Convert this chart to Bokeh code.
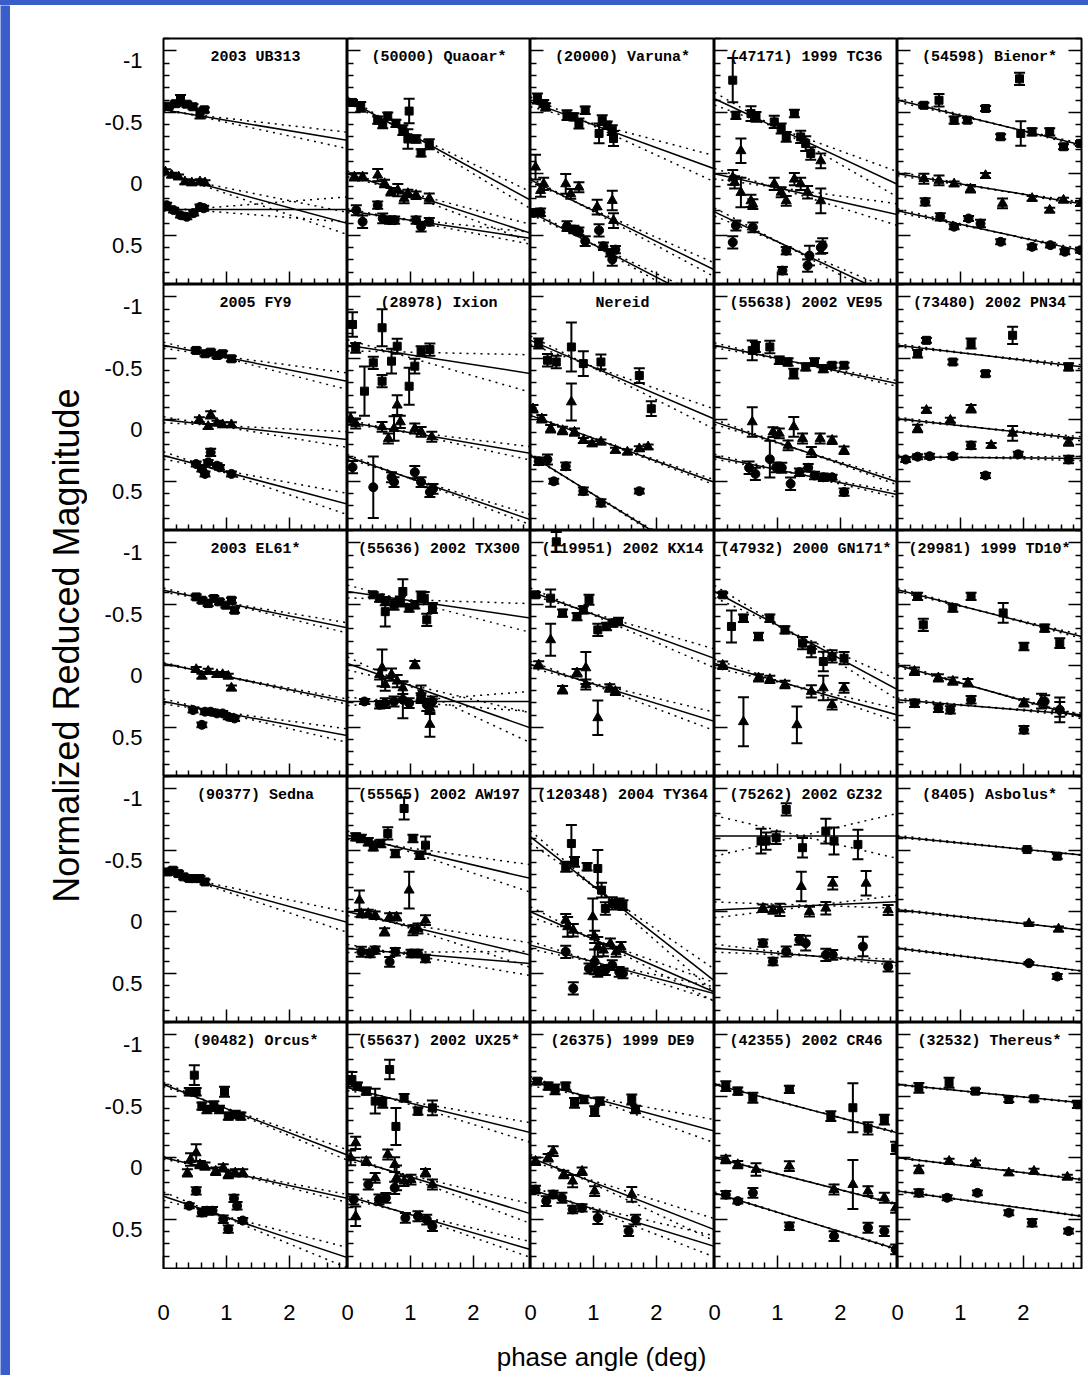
from bokeh.plotting import figure
from bokeh.layouts import column, row
from bokeh.models import (Range1d, FixedTicker, LinearAxis, Label, Whisker,
                          TeeHead, ColumnDataSource, Div)
from bokeh.embed import file_html
from bokeh.resources import INLINE

# ------------------------------------------------------------------ ticks
X_MAJOR = [0, 1, 2]
X_MINOR = [0.2, 0.4, 0.6, 0.8, 1.2, 1.4, 1.6, 1.8, 2.2, 2.4, 2.6, 2.8]
X_TICK_LABELS = ["0", "1", "2"]
Y_MAJOR = [-1, -0.5, 0, 0.5]
Y_MINOR = [-1.1, -0.9, -0.8, -0.7, -0.6, -0.4, -0.3, -0.2, -0.1,
           0.1, 0.2, 0.3, 0.4, 0.6, 0.7, 0.8]
Y_TICK_LABELS = ["-1", "-0.5", "0", "0.5"]

# ------------------------------------------------------------------ data
# points: (phase angle [deg], normalized reduced magnitude, error)
# fits:   (intercept, slope [mag/deg], slope uncertainty) for top/mid/bottom
UB313_TOP = [(0.08,-0.55,0.02),(0.19,-0.57,0.02),(0.27,-0.60,0.04),(0.37,-0.566,0.02),(0.47,-0.545,0.02),(0.58,-0.49,0.04),(0.65,-0.52,0.02)]
UB313_MID = [(0.03,-0.016,0.02),(0.13,0.011,0.02),(0.24,0.025,0.02),(0.34,0.065,0.02),(0.45,0.073,0.02),(0.58,0.065,0.02),(0.66,0.073,0.02)]
UB313_BOT = [(0.05,0.255,0.02),(0.16,0.295,0.02),(0.27,0.336,0.02),(0.37,0.35,0.02),(0.48,0.32,0.02),(0.58,0.27,0.02),(0.64,0.28,0.02)]
UB313_FIT = [(-0.52,0.085,0.026),(0.0,0.138,0.035),(0.29,0.0,0.04)]

QUAOAR_TOP = [(0.08,-0.58,0.02),(0.21,-0.544,0.04),(0.48,-0.436,0.03),(0.56,-0.401,0.03),(0.64,-0.469,0.03),(0.77,-0.41,0.03),(0.88,-0.355,0.04),(0.98,-0.51,0.1),(0.96,-0.283,0.08),(1.09,-0.283,0.03),(1.17,-0.17,0.03),(1.30,-0.24,0.04)]
QUAOAR_MID = [(0.11,0.025,0.03),(0.24,0.025,0.03),(0.48,0.011,0.05),(0.59,0.079,0.03),(0.69,0.146,0.03),(0.80,0.133,0.05),(0.90,0.2,0.04),(0.96,0.16,0.03),(1.09,0.174,0.03),(1.30,0.2,0.04)]
QUAOAR_BOT = [(0.14,0.296,0.04),(0.24,0.39,0.05),(0.48,0.255,0.03),(0.56,0.363,0.04),(0.67,0.377,0.03),(0.75,0.377,0.03),(1.09,0.377,0.03),(1.17,0.43,0.04),(1.30,0.39,0.03)]
QUAOAR_FIT = [(-0.60,0.28,0.032),(0.0,0.166,0.033),(0.30,0.077,0.022)]

VARUNA_TOP = [(0.11,-0.612,0.04),(0.21,-0.571,0.03),(0.24,-0.544,0.03),(0.58,-0.477,0.04),(0.69,-0.463,0.03),(0.77,-0.409,0.04),(0.87,-0.517,0.03),(1.09,-0.328,0.08),(1.14,-0.436,0.04),(1.22,-0.395,0.03),(1.32,-0.287,0.06),(1.30,-0.355,0.04)]
VARUNA_MID = [(0.08,-0.054,0.1),(0.16,0.136,0.05),(0.21,0.082,0.05),(0.56,0.082,0.08),(0.64,0.163,0.04),(0.77,0.109,0.04),(1.06,0.27,0.06),(1.30,0.217,0.08),(1.32,0.38,0.06)]
VARUNA_BOT = [(0.05,0.318,0.03),(0.16,0.313,0.03),(0.58,0.426,0.04),(0.69,0.453,0.03),(0.77,0.467,0.03),(0.87,0.548,0.04),(1.09,0.46,0.05),(1.16,0.589,0.03),(1.27,0.643,0.03),(1.30,0.697,0.05),(1.35,0.616,0.03)]
VARUNA_FIT = [(-0.585,0.186,0.05),(0.05,0.25,0.025),(0.31,0.265,0.025)]

TC36_TOP = [(0.29,-0.761,0.18),(0.34,-0.475,0.03),(0.58,-0.49,0.06),(0.66,-0.463,0.04),(0.95,-0.422,0.05),(1.06,-0.368,0.04),(1.14,-0.30,0.04),(1.27,-0.49,0.03),(1.37,-0.30,0.05),(1.45,-0.246,0.06),(1.53,-0.165,0.05)]
TC36_MID = [(0.29,0.03,0.06),(0.32,0.07,0.05),(0.42,0.152,0.12),(0.42,-0.187,0.1),(0.58,0.22,0.05),(0.61,0.247,0.04),(0.95,0.082,0.05),(1.06,0.15,0.04),(1.14,0.22,0.04),(1.27,0.044,0.05),(1.37,0.082,0.05),(1.48,0.15,0.05),(1.69,-0.105,0.06),(1.69,0.22,0.1)]
TC36_BOT = [(0.29,0.557,0.05),(0.34,0.42,0.04),(0.61,0.436,0.04),(1.14,0.625,0.03),(1.08,0.787,0.03),(1.51,0.665,0.08),(1.48,0.746,0.05),(1.72,0.584,0.06),(1.69,0.60,0.05)]
TC36_FIT = [(-0.61,0.239,0.053),(0.0,0.114,0.045),(0.31,0.242,0.03)]

BIENOR_TOP = [(0.42,-0.557,0.02),(0.66,-0.598,0.05),(0.90,-0.436,0.03),(1.11,-0.436,0.02),(1.40,-0.531,0.02),(1.64,-0.301,0.02),(1.94,-0.772,0.05),(1.96,-0.328,0.1),(2.14,-0.341,0.03),(2.42,-0.341,0.03),(2.64,-0.22,0.02),(2.91,-0.247,0.02)]
BIENOR_MID = [(0.42,0.04,0.04),(0.66,0.054,0.04),(0.90,0.082,0.02),(1.16,0.122,0.03),(1.40,0.014,0.02),(1.67,0.241,0.04),(2.14,0.2,0.02),(2.42,0.295,0.02),(2.64,0.214,0.02),(2.91,0.241,0.02)]
BIENOR_BOT = [(0.44,0.228,0.03),(0.68,0.35,0.03),(0.90,0.43,0.02),(1.13,0.363,0.02),(1.32,0.404,0.03),(1.64,0.553,0.02),(2.14,0.594,0.02),(2.43,0.58,0.02),(2.66,0.634,0.02),(2.91,0.621,0.02)]
BIENOR_FIT = [(-0.60,0.125,0.01),(0.0,0.083,0.01),(0.30,0.111,0.01)]

FY9_TOP = [(0.52,-0.564,0.02),(0.66,-0.537,0.02),(0.75,-0.55,0.02),(0.85,-0.523,0.02),(0.94,-0.537,0.02),(1.08,-0.496,0.02)]
FY9_MID = [(0.57,0.0,0.02),(0.71,0.054,0.02),(0.75,-0.04,0.03),(0.85,0.027,0.02),(0.94,0.04,0.02),(1.08,0.04,0.02)]
FY9_BOT = [(0.52,0.36,0.02),(0.61,0.40,0.02),(0.66,0.44,0.02),(0.71,0.346,0.02),(0.75,0.265,0.03),(0.85,0.373,0.02),(0.89,0.387,0.02),(1.08,0.44,0.02)]
FY9_FIT = [(-0.606,0.10,0.032),(0.0,0.055,0.03),(0.29,0.135,0.04)]

IXION_TOP = [(0.08,-0.775,0.1),(0.13,-0.585,0.04),(0.27,-0.233,0.2),(0.41,-0.463,0.05),(0.55,-0.748,0.15),(0.55,-0.314,0.05),(0.70,-0.477,0.1),(0.79,-0.598,0.06),(0.98,-0.273,0.15),(1.07,-0.436,0.06),(1.17,-0.558,0.04),(1.31,-0.571,0.05)]
IXION_MID = [(0.05,-0.01,0.05),(0.13,0.03,0.04),(0.55,0.057,0.04),(0.65,0.152,0.04),(0.74,0.071,0.1),(0.79,-0.119,0.08),(0.84,0.017,0.05),(1.07,0.071,0.04),(1.17,0.098,0.04),(1.34,0.138,0.04)]
IXION_BOT = [(0.08,0.385,0.05),(0.41,0.548,0.25),(0.70,0.467,0.04),(0.74,0.507,0.04),(1.07,0.426,0.05),(1.17,0.507,0.04),(1.31,0.588,0.04),(1.36,0.561,0.04)]
IXION_FIT = [(-0.606,0.079,0.068),(0.017,0.088,0.025),(0.30,0.176,0.02)]

NEREID_TOP = [(0.13,-0.62,0.04),(0.27,-0.484,0.05),(0.41,-0.47,0.05),(0.65,-0.592,0.2),(0.84,-0.457,0.1),(1.12,-0.47,0.06),(1.73,-0.36,0.06),(1.92,-0.09,0.06)]
NEREID_MID = [(0.04,-0.09,0.03),(0.18,-0.009,0.03),(0.32,0.073,0.03),(0.51,0.087,0.03),(0.65,-0.145,0.15),(0.70,0.10,0.03),(0.84,0.168,0.02),(0.98,0.195,0.02),(1.12,0.18,0.02),(1.35,0.248,0.02),(1.54,0.262,0.02),(1.73,0.235,0.02),(1.87,0.22,0.02)]
NEREID_BOT = [(0.13,0.337,0.03),(0.27,0.323,0.04),(0.37,0.50,0.02),(0.56,0.378,0.03),(0.84,0.58,0.03),(1.12,0.675,0.03),(1.73,0.58,0.02)]
NEREID_FIT = [(-0.646,0.219,0.04),(-0.036,0.186,0.01),(0.29,0.317,0.01)]

VE95_TOP = [(0.60,-0.564,0.08),(0.65,-0.592,0.04),(0.88,-0.592,0.05),(1.03,-0.484,0.03),(1.17,-0.47,0.03),(1.26,-0.375,0.04),(1.45,-0.43,0.03),(1.59,-0.47,0.03),(1.73,-0.416,0.03),(1.87,-0.443,0.02),(2.06,-0.443,0.02)]
VE95_MID = [(0.60,0.017,0.12),(0.93,0.10,0.04),(1.03,0.11,0.04),(1.17,0.208,0.04),(1.26,0.057,0.08),(1.40,0.152,0.04),(1.54,0.262,0.04),(1.68,0.152,0.04),(1.87,0.166,0.03),(2.06,0.248,0.03)]
VE95_BOT = [(0.55,0.39,0.05),(0.65,0.44,0.05),(0.88,0.32,0.15),(0.98,0.387,0.04),(1.07,0.39,0.04),(1.21,0.52,0.05),(1.35,0.426,0.03),(1.49,0.39,0.03),(1.59,0.453,0.03),(1.73,0.467,0.03),(1.87,0.467,0.02),(2.06,0.588,0.03)]
VE95_FIT = [(-0.606,0.107,0.015),(0.017,0.168,0.015),(0.30,0.106,0.015)]

PN34_TOP = [(0.32,-0.537,0.03),(0.46,-0.646,0.02),(0.88,-0.47,0.02),(1.17,-0.62,0.04),(1.40,-0.375,0.02),(1.83,-0.687,0.07),(2.72,-0.43,0.03)]
PN34_MID = [(0.32,0.071,0.03),(0.46,-0.077,0.02),(0.84,0.003,0.02),(1.17,-0.09,0.03),(1.49,0.208,0.02),(1.83,0.11,0.06),(2.72,0.18,0.03)]
PN34_BOT = [(0.13,0.323,0.02),(0.32,0.30,0.02),(0.51,0.296,0.02),(0.88,0.296,0.02),(1.17,0.208,0.03),(1.40,0.453,0.02),(1.92,0.28,0.02),(2.72,0.323,0.03)]
PN34_FIT = [(-0.606,0.06,0.01),(-0.009,0.056,0.01),(0.30,0.005,0.01)]

EL61_TOP = [(0.52,-0.56,0.02),(0.61,-0.533,0.02),(0.71,-0.506,0.02),(0.80,-0.547,0.02),(0.89,-0.52,0.02),(0.99,-0.493,0.02),(1.08,-0.533,0.02),(1.13,-0.452,0.02)]
EL61_MID = [(0.52,0.03,0.02),(0.61,0.084,0.02),(0.71,0.044,0.02),(0.85,0.071,0.02),(0.94,0.071,0.02),(1.03,0.084,0.02),(1.08,0.18,0.02)]
EL61_BOT = [(0.47,0.36,0.02),(0.61,0.48,0.02),(0.66,0.373,0.02),(0.75,0.373,0.02),(0.85,0.387,0.02),(0.94,0.387,0.02),(1.03,0.414,0.02),(1.13,0.428,0.02)]
EL61_FIT = [(-0.615,0.105,0.02),(-0.019,0.106,0.01),(0.29,0.095,0.026)]

TX300_TOP = [(0.41,-0.577,0.02),(0.51,-0.55,0.03),(0.60,-0.523,0.03),(0.60,-0.44,0.12),(0.74,-0.496,0.04),(0.84,-0.523,0.04),(0.88,-0.604,0.1),(0.98,-0.47,0.03),(1.07,-0.496,0.03),(1.17,-0.564,0.04),(1.22,-0.55,0.05),(1.26,-0.374,0.05),(1.35,-0.47,0.04)]
TX300_MID = [(0.51,0.071,0.04),(0.55,0.017,0.15),(0.60,0.152,0.05),(0.70,0.071,0.05),(0.79,0.125,0.05),(0.88,0.18,0.05),(1.07,-0.01,0.03),(1.17,0.22,0.06),(1.31,0.342,0.05),(1.31,0.477,0.1)]
TX300_BOT = [(0.27,0.29,0.02),(0.51,0.317,0.03),(0.60,0.304,0.04),(0.74,0.29,0.04),(0.88,0.276,0.15),(0.98,0.304,0.04),(1.17,0.263,0.04),(1.26,0.317,0.05),(1.35,0.29,0.04)]
TX300_FIT = [(-0.604,0.074,0.058),(-0.019,0.18,0.06),(0.29,0.0,0.04)]

KX14_TOP = [(0.08,-0.577,0.02),(0.32,-0.55,0.07),(0.41,-1.008,0.08),(0.51,-0.428,0.03),(0.74,-0.40,0.03),(0.84,-0.455,0.03),(0.93,-0.537,0.04),(1.07,-0.292,0.05),(1.21,-0.32,0.03),(1.31,-0.347,0.03),(1.40,-0.36,0.03)]
KX14_MID = [(0.13,-0.008,0.03),(0.32,-0.211,0.13),(0.51,0.195,0.03),(0.74,0.057,0.03),(0.88,0.017,0.13),(0.88,0.152,0.04),(1.07,0.423,0.14),(1.26,0.18,0.03),(1.35,0.208,0.03)]
KX14_BOT = []
KX14_FIT = [(-0.604,0.186,0.036),(-0.01,0.158,0.035),None]

GN171_TOP = [(0.13,-0.577,0.02),(0.27,-0.32,0.13),(0.46,-0.387,0.03),(0.70,-0.238,0.03),(0.88,-0.387,0.03),(1.12,-0.292,0.03),(1.40,-0.184,0.05),(1.54,-0.13,0.06),(1.73,-0.035,0.08),(1.87,-0.076,0.05),(2.06,-0.062,0.05)]
GN171_MID = [(0.13,-0.005,0.03),(0.46,0.455,0.2),(0.70,0.098,0.03),(0.88,0.11,0.03),(1.12,0.152,0.03),(1.31,0.48,0.15),(1.54,0.208,0.05),(1.73,0.18,0.1),(1.87,0.315,0.04),(2.06,0.18,0.04)]
GN171_BOT = []
GN171_FIT = [(-0.604,0.274,0.045),(-0.019,0.144,0.03),None]

TD10_TOP = [(0.32,-0.564,0.03),(0.41,-0.333,0.05),(0.88,-0.47,0.03),(1.17,-0.564,0.03),(1.68,-0.43,0.08),(2.01,-0.157,0.03),(2.34,-0.306,0.03),(2.58,-0.184,0.04)]
TD10_MID = [(0.27,0.044,0.03),(0.65,0.098,0.03),(0.88,0.125,0.03),(1.12,0.138,0.03),(2.01,0.301,0.03),(2.29,0.288,0.06),(2.58,0.355,0.06)]
TD10_BOT = [(0.27,0.304,0.03),(0.65,0.345,0.03),(0.84,0.358,0.03),(1.17,0.276,0.03),(2.01,0.52,0.03),(2.34,0.29,0.05),(2.58,0.358,0.1)]
TD10_FIT = [(-0.618,0.13,0.01),(-0.005,0.144,0.01),(0.276,0.042,0.01)]

SEDNA_TOP = [(0.07,-0.324,0.02),(0.15,-0.338,0.02),(0.24,-0.31,0.02),(0.32,-0.284,0.02),(0.41,-0.27,0.02),(0.49,-0.27,0.02),(0.58,-0.27,0.02),(0.66,-0.243,0.02)]
SEDNA_MID = []
SEDNA_BOT = []
SEDNA_FIT = [(-0.324,0.14,0.032),None,None]

AW197_TOP = [(0.13,-0.609,0.03),(0.22,-0.596,0.03),(0.33,-0.569,0.03),(0.41,-0.528,0.03),(0.53,-0.555,0.03),(0.64,-0.637,0.05),(0.76,-0.474,0.03),(0.90,-0.84,0.09),(1.04,-0.596,0.03),(1.15,-0.46,0.03),(1.24,-0.542,0.07)]
AW197_MID = [(0.19,-0.094,0.08),(0.22,0.014,0.03),(0.33,0.014,0.03),(0.44,0.028,0.03),(0.59,0.163,0.03),(0.67,0.041,0.03),(0.78,0.041,0.03),(0.98,-0.176,0.15),(1.04,0.15,0.04),(1.12,0.136,0.04),(1.24,0.068,0.04)]
AW197_BOT = [(0.22,0.325,0.04),(0.36,0.339,0.03),(0.44,0.312,0.03),(0.67,0.407,0.04),(0.76,0.325,0.03),(1.01,0.339,0.03),(1.12,0.339,0.03),(1.24,0.38,0.03)]
AW197_FIT = [(-0.623,0.121,0.05),(0.0,0.121,0.045),(0.298,0.042,0.045)]

TY364_TOP = [(0.56,-0.366,0.04),(0.65,-0.555,0.15),(0.70,-0.406,0.04),(0.90,-0.366,0.03),(1.07,-0.352,0.15),(1.13,-0.176,0.06),(1.19,-0.027,0.05),(1.30,-0.068,0.05),(1.41,-0.068,0.04),(1.47,-0.054,0.04)]
TY364_MID = [(0.56,0.068,0.05),(0.59,0.122,0.08),(0.68,0.15,0.05),(0.99,0.041,0.15),(1.02,0.204,0.05),(1.07,0.285,0.08),(1.16,0.312,0.05),(1.27,0.258,0.04),(1.36,0.325,0.04),(1.44,0.285,0.04)]
TY364_BOT = [(0.56,0.325,0.05),(0.68,0.623,0.05),(0.93,0.461,0.04),(1.02,0.407,0.1),(1.07,0.488,0.04),(1.19,0.474,0.04),(1.30,0.434,0.04),(1.41,0.488,0.04),(1.47,0.501,0.04)]
TY364_FIT = [(-0.609,0.40,0.05),(0.0,0.223,0.04),(0.271,0.135,0.03)]

GZ32_TOP = [(0.74,-0.575,0.1),(0.82,-0.575,0.07),(0.98,-0.602,0.05),(1.14,-0.832,0.05),(1.40,-0.521,0.08),(1.77,-0.656,0.1),(1.90,-0.575,0.11),(2.28,-0.548,0.12)]
GZ32_MID = [(0.77,-0.029,0.03),(0.93,-0.015,0.03),(1.04,-0.015,0.05),(1.38,-0.205,0.12),(1.51,-0.002,0.04),(1.77,-0.029,0.05),(1.88,-0.232,0.05),(2.41,-0.232,0.1),(2.76,-0.015,0.04)]
GZ32_BOT = [(0.77,0.255,0.03),(0.93,0.404,0.03),(1.14,0.323,0.04),(1.35,0.228,0.04),(1.45,0.255,0.06),(1.77,0.35,0.05),(1.88,0.35,0.04),(2.36,0.282,0.08),(2.76,0.445,0.04)]
GZ32_FIT = [(-0.617,0.0,0.12),(-0.015,-0.023,0.04),(0.296,0.04,0.02)]

ASBOLUS_TOP = [(2.06,-0.506,0.01),(2.54,-0.452,0.02)]
ASBOLUS_MID = [(2.09,0.096,0.01),(2.56,0.14,0.02)]
ASBOLUS_BOT = [(2.09,0.418,0.01),(2.54,0.526,0.02)]
ASBOLUS_FIT = [(-0.611,0.051,0.004),(-0.016,0.056,0.004),(0.296,0.063,0.004)]

ORCUS_TOP = [(0.41,-0.537,0.03),(0.49,-0.672,0.08),(0.52,-0.537,0.03),(0.61,-0.42,0.03),(0.69,-0.393,0.03),(0.80,-0.42,0.04),(0.89,-0.393,0.03),(0.97,-0.537,0.04),(1.03,-0.339,0.03),(1.14,-0.352,0.03),(1.23,-0.339,0.03)]
ORCUS_MID = [(0.38,0.123,0.03),(0.43,0.014,0.05),(0.52,-0.04,0.07),(0.58,0.055,0.03),(0.66,0.068,0.03),(0.83,0.109,0.03),(0.95,0.082,0.03),(1.03,0.136,0.03),(1.14,0.123,0.03),(1.26,0.123,0.03)]
ORCUS_BOT = [(0.41,0.39,0.02),(0.52,0.269,0.03),(0.61,0.445,0.03),(0.69,0.43,0.03),(0.78,0.43,0.03),(0.95,0.50,0.03),(1.03,0.58,0.03),(1.12,0.33,0.03),(1.17,0.39,0.03),(1.26,0.51,0.02)]
ORCUS_FIT = [(-0.596,0.196,0.02),(0.0,0.113,0.015),(0.312,0.171,0.04)]

UX25_TOP = [(0.07,-0.637,0.06),(0.16,-0.583,0.03),(0.30,-0.542,0.03),(0.44,-0.461,0.1),(0.56,-0.447,0.04),(0.67,-0.718,0.08),(0.77,-0.255,0.15),(0.90,-0.488,0.03),(1.12,-0.379,0.03),(1.35,-0.406,0.06)]
UX25_MID = [(0.05,0.0,0.06),(0.13,-0.122,0.05),(0.13,0.475,0.08),(0.30,0.028,0.03),(0.44,0.163,0.04),(0.64,-0.027,0.04),(0.75,0.055,0.06),(0.78,0.163,0.1),(0.90,0.19,0.04),(1.01,0.177,0.04),(1.24,0.122,0.03),(1.35,0.217,0.04)]
UX25_BOT = [(0.10,0.339,0.04),(0.33,0.217,0.04),(0.50,0.339,0.04),(0.61,0.326,0.04),(0.75,0.244,0.05),(0.92,0.488,0.04),(1.12,0.475,0.04),(1.26,0.502,0.04),(1.35,0.556,0.04)]
UX25_FIT = [(-0.569,0.125,0.035),(0.0,0.156,0.035),(0.312,0.149,0.03)]

DE9_TOP = [(0.11,-0.623,0.02),(0.28,-0.583,0.03),(0.39,-0.556,0.04),(0.56,-0.583,0.03),(0.70,-0.447,0.04),(0.85,-0.474,0.03),(1.02,-0.379,0.04),(1.10,-0.461,0.03),(1.61,-0.474,0.04),(1.67,-0.393,0.03)]
DE9_MID = [(0.08,0.028,0.03),(0.28,0.0,0.03),(0.36,-0.054,0.04),(0.53,0.136,0.03),(0.67,0.19,0.05),(0.82,0.109,0.03),(1.02,0.271,0.04),(1.61,0.298,0.06)]
DE9_BOT = [(0.08,0.258,0.03),(0.25,0.352,0.04),(0.36,0.298,0.03),(0.50,0.325,0.04),(0.67,0.42,0.03),(0.82,0.407,0.03),(1.07,0.488,0.05),(1.56,0.596,0.04),(1.67,0.502,0.04)]
DE9_FIT = [(-0.623,0.139,0.045),(0.0,0.2,0.04),(0.258,0.158,0.04)]

CR46_TOP = [(0.18,-0.583,0.04),(0.37,-0.542,0.03),(0.61,-0.488,0.04),(1.19,-0.556,0.03),(1.85,-0.339,0.04),(2.20,-0.407,0.2),(2.44,-0.24,0.05),(2.70,-0.31,0.04),(2.88,-0.08,0.05)]
CR46_MID = [(0.18,0.014,0.03),(0.37,0.055,0.03),(0.66,0.095,0.05),(1.19,0.068,0.04),(1.90,0.258,0.04),(2.20,0.217,0.2),(2.44,0.271,0.04),(2.70,0.325,0.04),(2.88,0.407,0.04)]
CR46_BOT = [(0.18,0.30,0.03),(0.37,0.352,0.02),(0.61,0.285,0.04),(1.19,0.556,0.03),(1.90,0.637,0.04),(2.44,0.569,0.04),(2.70,0.596,0.04),(2.88,0.745,0.04)]
CR46_FIT = [(-0.596,0.135,0.005),(0.0,0.13,0.005),(0.285,0.158,0.005)]

THEREUS_TOP = [(0.34,-0.569,0.04),(0.82,-0.61,0.04),(1.24,-0.542,0.02),(1.77,-0.474,0.02),(2.17,-0.48,0.02),(2.86,-0.434,0.03)]
THEREUS_MID = [(0.34,0.095,0.03),(0.82,0.028,0.02),(1.24,0.041,0.02),(1.77,0.122,0.02),(2.17,0.109,0.02),(2.70,0.157,0.02)]
THEREUS_BOT = [(0.34,0.285,0.03),(0.79,0.325,0.02),(1.27,0.285,0.02),(1.77,0.447,0.02),(2.14,0.528,0.03),(2.72,0.596,0.02)]
THEREUS_FIT = [(-0.596,0.051,0.004),(0.0,0.06,0.004),(0.27,0.07,0.004)]

PANELS = [
    ("2003 UB313", UB313_TOP, UB313_MID, UB313_BOT, UB313_FIT),
    ("(50000) Quaoar*", QUAOAR_TOP, QUAOAR_MID, QUAOAR_BOT, QUAOAR_FIT),
    ("(20000) Varuna*", VARUNA_TOP, VARUNA_MID, VARUNA_BOT, VARUNA_FIT),
    ("(47171) 1999 TC36", TC36_TOP, TC36_MID, TC36_BOT, TC36_FIT),
    ("(54598) Bienor*", BIENOR_TOP, BIENOR_MID, BIENOR_BOT, BIENOR_FIT),
    ("2005 FY9", FY9_TOP, FY9_MID, FY9_BOT, FY9_FIT),
    ("(28978) Ixion", IXION_TOP, IXION_MID, IXION_BOT, IXION_FIT),
    ("Nereid", NEREID_TOP, NEREID_MID, NEREID_BOT, NEREID_FIT),
    ("(55638) 2002 VE95", VE95_TOP, VE95_MID, VE95_BOT, VE95_FIT),
    ("(73480) 2002 PN34", PN34_TOP, PN34_MID, PN34_BOT, PN34_FIT),
    ("2003 EL61*", EL61_TOP, EL61_MID, EL61_BOT, EL61_FIT),
    ("(55636) 2002 TX300", TX300_TOP, TX300_MID, TX300_BOT, TX300_FIT),
    ("(119951) 2002 KX14", KX14_TOP, KX14_MID, KX14_BOT, KX14_FIT),
    ("(47932) 2000 GN171*", GN171_TOP, GN171_MID, GN171_BOT, GN171_FIT),
    ("(29981) 1999 TD10*", TD10_TOP, TD10_MID, TD10_BOT, TD10_FIT),
    ("(90377) Sedna", SEDNA_TOP, SEDNA_MID, SEDNA_BOT, SEDNA_FIT),
    ("(55565) 2002 AW197", AW197_TOP, AW197_MID, AW197_BOT, AW197_FIT),
    ("(120348) 2004 TY364", TY364_TOP, TY364_MID, TY364_BOT, TY364_FIT),
    ("(75262) 2002 GZ32", GZ32_TOP, GZ32_MID, GZ32_BOT, GZ32_FIT),
    ("(8405) Asbolus*", ASBOLUS_TOP, ASBOLUS_MID, ASBOLUS_BOT, ASBOLUS_FIT),
    ("(90482) Orcus*", ORCUS_TOP, ORCUS_MID, ORCUS_BOT, ORCUS_FIT),
    ("(55637) 2002 UX25*", UX25_TOP, UX25_MID, UX25_BOT, UX25_FIT),
    ("(26375) 1999 DE9", DE9_TOP, DE9_MID, DE9_BOT, DE9_FIT),
    ("(42355) 2002 CR46", CR46_TOP, CR46_MID, CR46_BOT, CR46_FIT),
    ("(32532) Thereus*", THEREUS_TOP, THEREUS_MID, THEREUS_BOT, THEREUS_FIT),
]

# ------------------------------------------------------------------ layout / style
NROW, NCOL = 5, 5
PAGE_W = 1088
BLUE = "#3a5ec8"
BLUE_LEFT, BLUE_TOP = 10, 5
FRAME_WS = [184, 183, 184, 183, 184]     # panel frame widths (px)
FRAME_H = 246
PX_PER_DEG = 62.9
FIRST_FRAME_X = 163                      # x of the first panel's left edge
YSTRIP_FRAME_X = 86                      # where the y-title axis sits
GRID_TOP = 38                            # y of the first row's top edge
RIGHT_BORDER = PAGE_W - FIRST_FRAME_X - sum(FRAME_WS)
Y_TOP, Y_BOTTOM = -1.1, 0.9
LABEL_SHIFT = 0.08          # y tick labels sit a little below their ticks
TITLE_Y = -0.945
FONT = "Liberation Sans"
MARKERS = [("square", 8), ("triangle", 10), ("circle", 9)]
DOT = "2 5"
YLABEL_CENTER_Y = 645
XLABEL_CENTER_X = 601


def tick_axis(ax, ticks, minor):
    ax.ticker = FixedTicker(ticks=ticks, minor_ticks=minor)
    ax.axis_line_color = None
    ax.major_tick_in, ax.major_tick_out = 13, 0
    ax.minor_tick_in, ax.minor_tick_out = 6, 0
    ax.major_tick_line_color = "black"
    ax.minor_tick_line_color = "black"
    ax.major_tick_line_width = 1.5
    ax.minor_tick_line_width = 1.5
    ax.major_label_text_font_size = "0px"
    ax.major_label_text_color = None
    ax.major_label_standoff = 0


def make_panel(r, c, title, series, fits):
    fw = FRAME_WS[c]
    x_max = fw / PX_PER_DEG
    left_border = FIRST_FRAME_X - (YSTRIP_FRAME_X + 1)
    p = figure(frame_width=fw, frame_height=FRAME_H,
               x_range=Range1d(0, x_max), y_range=Range1d(Y_BOTTOM, Y_TOP),
               min_border=0,
               min_border_left=left_border if c == 0 else 0,
               min_border_right=RIGHT_BORDER if c == NCOL - 1 else 0,
               min_border_top=GRID_TOP - BLUE_TOP if r == 0 else 0,
               min_border_bottom=1 if r == NROW - 1 else 0,
               toolbar_location=None, output_backend="svg", title=None,
               background_fill_color="white", border_fill_color="white",
               outline_line_color="black", outline_line_width=2)
    p.grid.visible = False
    tick_axis(p.xaxis[0], X_MAJOR, X_MINOR)
    tick_axis(p.yaxis[0], Y_MAJOR, Y_MINOR)
    if c == NCOL - 1:
        ra = LinearAxis()
        tick_axis(ra, Y_MAJOR, Y_MINOR)
        p.add_layout(ra, "right")
    if c == 0:
        p.extra_y_ranges = {"lab": Range1d(Y_BOTTOM - LABEL_SHIFT, Y_TOP - LABEL_SHIFT)}
        la = LinearAxis(y_range_name="lab",
                        ticker=FixedTicker(ticks=Y_MAJOR),
                        major_label_overrides=dict(zip(Y_MAJOR, Y_TICK_LABELS)),
                        axis_line_color=None, major_tick_line_color=None,
                        minor_tick_line_color=None,
                        major_tick_in=0, major_tick_out=0,
                        minor_tick_in=0, minor_tick_out=0,
                        major_label_standoff=21,
                        major_label_text_font=FONT,
                        major_label_text_font_size="22px",
                        major_label_text_color="black")
        p.add_layout(la, "left")

    for k, pts in enumerate(series):
        fit = fits[k]
        if fit is not None:
            m0, slope, ds = fit
            xs = [0, x_max]
            p.line(xs, [m0 + slope * x for x in xs], line_color="black", line_width=1.5)
            pivot = sum(t[0] for t in pts) / len(pts)
            mc = m0 + slope * pivot
            for sgn in (-1, 1):
                s = slope + sgn * ds
                p.line(xs, [mc + s * (x - pivot) for x in xs], line_color="black",
                       line_width=1.5, line_dash=DOT)
        if not pts:
            continue
        src = ColumnDataSource(dict(
            a=[t[0] for t in pts], m=[t[1] for t in pts],
            lo=[t[1] - t[2] for t in pts], hi=[t[1] + t[2] for t in pts]))
        p.add_layout(Whisker(source=src, base="a", lower="lo", upper="hi",
                             dimension="height", line_color="black", line_width=2,
                             upper_head=TeeHead(size=11, line_color="black", line_width=2),
                             lower_head=TeeHead(size=11, line_color="black", line_width=2)))
        mk, sz = MARKERS[k]
        p.scatter("a", "m", source=src, marker=mk, size=sz,
                  fill_color="black", line_color="black")

    p.add_layout(Label(x=x_max / 2, y=TITLE_Y, text=title, text_align="center",
                       text_baseline="middle", text_font="Liberation Mono",
                       text_font_style="bold", text_font_size="15px",
                       text_color="black"))
    return p


rows = []
for r in range(NROW):
    figs = []
    for c in range(NCOL):
        title, top, mid, bot, fits = PANELS[r * NCOL + c]
        figs.append(make_panel(r, c, title, [top, mid, bot], fits))
    rows.append(row(*figs, spacing=0))
grid = column(*rows, spacing=0)

GRID_BLOCK_H = (GRID_TOP - BLUE_TOP) + NROW * FRAME_H + 1

# strip on the left carrying the y title
ys_top = GRID_TOP - BLUE_TOP
ys_frame_h = 2 * (YLABEL_CENTER_Y - GRID_TOP)
ystrip = figure(frame_width=1, frame_height=ys_frame_h,
                x_range=Range1d(0, 1), y_range=Range1d(0, 1), x_axis_type=None,
                min_border=0, min_border_left=YSTRIP_FRAME_X - BLUE_LEFT,
                min_border_top=ys_top,
                min_border_bottom=GRID_BLOCK_H - ys_top - ys_frame_h,
                toolbar_location=None, output_backend="svg", title=None,
                outline_line_color=None, background_fill_color="white",
                border_fill_color="white")
ystrip.grid.visible = False
ya = ystrip.yaxis[0]
ya.ticker = FixedTicker(ticks=[])
ya.axis_line_color = None
ya.major_tick_line_color = None
ya.minor_tick_line_color = None
ya.major_tick_in = ya.major_tick_out = 0
ya.minor_tick_in = ya.minor_tick_out = 0
ya.major_label_standoff = 0
ya.axis_label = "Normalized Reduced Magnitude"
ya.axis_label_text_font = FONT
ya.axis_label_text_font_size = "36px"
ya.axis_label_text_font_style = "normal"
ya.axis_label_text_color = "black"
ya.axis_label_standoff = 0

# strip below carrying the phase-angle tick labels and the x title
last_edge = FIRST_FRAME_X + sum(FRAME_WS)
xs_left = 2 * XLABEL_CENTER_X - last_edge
xs_ticks, xs_labels = [], {}
edge = FIRST_FRAME_X
for c in range(NCOL):
    for t, lab in zip(X_MAJOR, X_TICK_LABELS):
        v = edge + t * PX_PER_DEG
        xs_ticks.append(v)
        xs_labels[v] = lab
    edge += FRAME_WS[c]

xstrip = figure(frame_width=last_edge - xs_left, frame_height=1,
                x_range=Range1d(xs_left, last_edge), y_range=Range1d(0, 1),
                y_axis_type=None, min_border=0, min_border_left=xs_left - BLUE_LEFT,
                min_border_right=RIGHT_BORDER, toolbar_location=None,
                output_backend="svg", title=None, outline_line_color=None,
                background_fill_color="white", border_fill_color="white")
xstrip.grid.visible = False
xa = xstrip.xaxis[0]
xa.ticker = FixedTicker(ticks=xs_ticks)
xa.major_label_overrides = xs_labels
xa.axis_line_color = None
xa.major_tick_line_color = None
xa.minor_tick_line_color = None
xa.major_tick_in = xa.major_tick_out = 0
xa.minor_tick_in = xa.minor_tick_out = 0
xa.major_label_standoff = 34
xa.major_label_text_font = FONT
xa.major_label_text_font_size = "22px"
xa.major_label_text_color = "black"
xa.axis_label = "phase angle (deg)"
xa.axis_label_text_font = FONT
xa.axis_label_text_font_size = "26px"
xa.axis_label_text_font_style = "normal"
xa.axis_label_text_color = "black"
xa.axis_label_standoff = 19

# blue page edges of the original picture
top_bar = Div(text="", width=PAGE_W, height=BLUE_TOP, margin=(0, 0, 0, 0),
              styles={"background-color": BLUE})
left_bar = figure(width=BLUE_LEFT, height=1370, x_axis_type=None, y_axis_type=None,
                  min_border=0, toolbar_location=None, output_backend="svg",
                  title=None, outline_line_color=None,
                  background_fill_color=BLUE, border_fill_color=BLUE)
left_bar.grid.visible = False

block = column(row(ystrip, grid, spacing=0), xstrip, spacing=0)
layout = column(top_bar, row(left_bar, block, spacing=0), spacing=0)

open("out.html", "w").write(file_html(layout, INLINE))
